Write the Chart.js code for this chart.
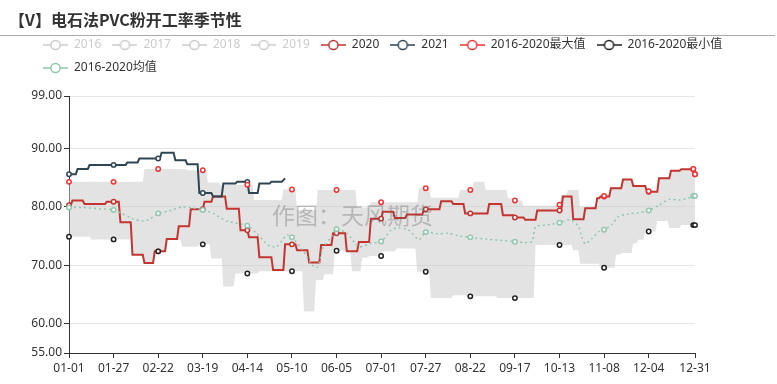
<!DOCTYPE html>
<html><head><meta charset="utf-8">
<script src="https://cdn.jsdelivr.net/npm/chart.js@4.4.1/dist/chart.umd.min.js"></script>
<style>
html,body{margin:0;padding:0;background:#fff;}
#wrap{position:relative;width:777px;height:384px;overflow:hidden;}
#title{position:absolute;left:9px;top:8px;font-size:16px;font-weight:bold;color:#333;line-height:22px;font-family:"Noto Sans CJK SC",sans-serif;white-space:nowrap;}
#rule{position:absolute;left:0;top:35px;width:775px;height:0;border-top:1px solid #aaa;}
#wm{position:absolute;left:272px;top:199px;font-size:23px;color:rgba(90,90,90,0.33);font-family:"Noto Sans CJK SC",sans-serif;white-space:nowrap;pointer-events:none;line-height:30px;}
canvas{position:absolute;left:0;top:0;}
</style></head>
<body><div id="wrap"><canvas id="c" width="777" height="384"></canvas><div id="title">【V】电石法PVC粉开工率季节性</div><div id="rule"></div><div id="wm">作图：天风期货</div></div>
<script>
// ---- categories (2020 calendar, MM-DD) ----
const monthDays = [31,29,31,30,31,30,31,31,30,31,30,31];
const categories = [];
monthDays.forEach((n, m) => { for (let d = 1; d <= n; d++) categories.push(String(m + 1).padStart(2, '0') + '-' + String(d).padStart(2, '0')); });

const seriesNames = ['2016','2017','2018','2019','2020','2021','2016-2020最大值','2016-2020最小值','2016-2020均值'];

// step series: [dayIndex, value] — value holds from that day on
const steps2020 = [[0,80.3],[2,81.1],[9,80.5],[22,80.9],[30,77.4],[37,71.8],[44,70.4],[50,72.4],[57,74.5],[64,76.7],[71,79.6],[79,80.9],[84,81.8],[92,79.7],[100,76.0],[105,74.8],[111,71.4],[119,69.2],[126,73.6],[133,72.6],[140,70.5],[147,73.5],[154,75.5],[162,72.4],[169,74.0],[176,78.0],[183,79.2],[190,78.1],[197,78.7],[207,79.6],[217,81.0],[224,80.5],[231,78.9],[245,80.5],[253,78.6],[260,78.2],[266,77.8],[273,79.4],[288,81.8],[294,77.9],[301,79.8],[308,81.5],[310,81.8],[316,83.2],[323,84.7],[329,83.6],[337,82.6],[344,84.9],[351,86.2],[357,86.45],[365,85.6]];
const end2020 = 365;
const steps2021 = [[0,85.6],[5,86.5],[12,87.2],[34,87.6],[41,88.3],[54,89.3],[62,88.0],[69,87.3],[76,82.4],[84,81.8],[90,84.0],[98,84.3],[105,82.4],[111,84.0],[118,84.3],[125,84.6],[126,84.9]];
const end2021 = 126;
const stepsMax = [[0,84.3],[44,86.5],[69,86.3],[81,84.2],[88,83.8],[108,81.2],[125,83.0],[133,79.5],[145,82.9],[168,79.9],[176,80.8],[204,83.2],[211,81.6],[228,82.9],[236,84.3],[243,82.9],[256,81.5],[260,81.1],[265,80.2],[286,80.4],[287,82.1],[291,82.9],[298,80.0],[309,81.9],[316,83.4],[323,84.8],[329,83.7],[337,82.7],[344,85.0],[351,86.3],[357,86.5],[365,85.6]];
const stepsMin = [[0,74.9],[13,74.45],[37,71.8],[44,70.4],[50,72.4],[57,74.4],[66,73.2],[76,73.6],[83,71.2],[90,66.4],[97,68.6],[111,69.0],[137,62.1],[144,67.5],[149,68.5],[155,72.5],[165,69.0],[171,71.3],[175,71.6],[183,72.4],[191,72.9],[203,68.9],[211,64.4],[224,64.9],[232,64.7],[250,64.4],[272,73.5],[294,72.6],[298,70.3],[310,69.6],[319,71.8],[322,72.1],[329,73.8],[332,74.4],[336,75.8],[343,77.6],[350,76.4],[357,76.9]];
// mean: [dayIndex, value] read points
const meanPoints = [[0,79.9],[8,79.9],[18,79.7],[26,79.5],[30,79.0],[37,78.0],[43,77.6],[47,77.9],[52,78.9],[58,79.3],[66,80.0],[72,79.8],[78,79.5],[84,78.9],[92,77.6],[104,76.8],[110,75.3],[116,73.5],[121,73.2],[127,75.2],[130,74.8],[137,72.3],[142,70.0],[145,69.7],[148,72.9],[153,74.9],[156,76.2],[162,75.5],[169,73.2],[176,73.8],[182,74.1],[188,76.1],[192,76.4],[198,76.1],[204,74.4],[208,75.7],[215,75.4],[221,75.5],[228,75.0],[234,74.8],[243,74.5],[251,74.3],[260,74.05],[266,73.9],[270,74.05],[272,76.6],[278,76.9],[286,77.3],[292,77.8],[297,76.7],[299,74.9],[301,73.7],[305,74.6],[309,75.8],[312,76.1],[317,77.1],[320,78.3],[326,78.8],[332,79.0],[338,79.4],[344,80.3],[350,81.3],[356,81.2],[361,81.5],[364,81.9],[365,81.9]];

const yTickValues = [55,60,70,80,90,99];
const xTickDays = [0,26,52,78,104,130,156,182,208,234,260,286,312,338,365];
const markerDays = [0,26,52,78,104,130,156,182,208,234,260,286,312,338,364,365];

// ---- build ----
function expand(steps, endDay) {
  const out = new Array(categories.length).fill(null);
  let k = 0;
  for (let d = 0; d <= endDay; d++) {
    while (k + 1 < steps.length && steps[k + 1][0] <= d) k++;
    out[d] = steps[k][1];
  }
  return out;
}
const markerSet = new Set(markerDays);
const mr = (r) => (ctx) => (ctx.parsed && markerSet.has(ctx.parsed.x)) ? r : 0;

const colors = ['#ccc','#ccc','#ccc','#ccc','#c23531','#2f4554','#f03333','#222222','#91c7ae'];
const textColors = ['#ccc','#ccc','#ccc','#ccc','#333','#333','#333','#333','#333'];
function icon(color) {
  const c = document.createElement('canvas'); c.width = 25; c.height = 14;
  const g = c.getContext('2d');
  g.strokeStyle = color; g.lineWidth = 1.5;
  g.beginPath(); g.moveTo(0, 7); g.lineTo(25, 7); g.stroke();
  g.beginPath(); g.arc(12.5, 7, 4.6, 0, Math.PI * 2); g.fillStyle = '#fff'; g.fill(); g.stroke();
  return c;
}
const icons = colors.map(icon);

const base = (i) => ({ label: seriesNames[i], clip: false, pointBackgroundColor: '#fff', pointBorderColor: colors[i], pointBorderWidth: 1.5, pointRadius: mr(2.2), pointHoverRadius: 0, tension: 0 });

const datasets = [
  Object.assign(base(0), { data: [], hidden: true }),
  Object.assign(base(1), { data: [], hidden: true }),
  Object.assign(base(2), { data: [], hidden: true }),
  Object.assign(base(3), { data: [], hidden: true }),
  Object.assign(base(4), { data: expand(steps2020, end2020), borderColor: colors[4], borderWidth: 2, order: 2 }),
  Object.assign(base(5), { data: expand(steps2021, end2021), borderColor: colors[5], borderWidth: 2, order: 1 }),
  Object.assign(base(6), { data: expand(stepsMax, 365), borderColor: 'rgba(0,0,0,0)', borderWidth: 0, fill: '+1', backgroundColor: 'rgba(200,200,200,0.5)', order: -1 }),
  Object.assign(base(7), { data: expand(stepsMin, 365), borderColor: 'rgba(0,0,0,0)', borderWidth: 0, fill: false, order: -1 }),
  Object.assign(base(8), { data: meanPoints.map(p => ({ x: categories[p[0]], y: p[1] })), borderColor: colors[8], borderWidth: 1.5, borderDash: [2, 3], tension: 0.25, order: 0 })
];

const legendTweak = {
  id: 'legendTweak',
  beforeLayout(chart) {
    const lg = chart.legend;
    if (lg && !lg._tweaked) {
      const orig = lg.fit;
      lg.fit = function () { this.maxWidth = 745; orig.call(this); this.height = 68; };
      lg._tweaked = true;
    }
  },
  afterLayout(chart) {
    const lg = chart.legend;
    if (lg) { lg.left = 32; lg.right = 777; }
  }
};

Chart.defaults.font.family = '"Noto Sans", "Noto Sans CJK SC", sans-serif';
Chart.defaults.font.size = 12;
Chart.defaults.color = '#333';

new Chart(document.getElementById('c'), {
  type: 'line',
  data: { labels: categories, datasets },
  plugins: [legendTweak],
  options: {
    responsive: false,
    animation: false,
    events: [],
    layout: { padding: { left: 0, right: 82, top: 28, bottom: 9 } },
    plugins: {
      filler: { drawTime: 'beforeDatasetsDraw' },
      tooltip: { enabled: false },
      legend: {
        position: 'top', align: 'start',
        labels: {
          usePointStyle: true, pointStyleWidth: 25, padding: 11,
          font: { size: 12 },
          generateLabels: () => seriesNames.map((n, i) => ({ text: n, fillStyle: 'rgba(0,0,0,0)', strokeStyle: 'rgba(0,0,0,0)', lineWidth: 0, hidden: false, datasetIndex: i, pointStyle: icons[i], fontColor: textColors[i] }))
        },
        onClick: null
      }
    },
    scales: {
      x: {
        type: 'category', offset: false,
        grid: { display: true, drawOnChartArea: false, drawTicks: true, tickLength: 5, color: '#333' },
        border: { display: true, color: '#333', width: 1 },
        afterBuildTicks: (s) => { s.ticks = xTickDays.map(d => ({ value: d })); },
        afterFit: (s) => { s.height = 22; },
        ticks: { autoSkip: false, maxRotation: 0, minRotation: 0, padding: 3, color: '#333', callback: function (v) { return categories[v]; } }
      },
      y: {
        min: 55, max: 99,
        grid: { color: '#e6e6e6', drawTicks: true, tickLength: 5, tickColor: '#333' },
        border: { display: true, color: '#333', width: 1 },
        afterBuildTicks: (s) => { s.ticks = yTickValues.map(v => ({ value: v })); },
        afterFit: (s) => { s.width = 69; },
        ticks: { padding: 2, color: '#333', callback: (v) => Number(v).toFixed(2) }
      }
    }
  }
});
</script>
</body></html>
